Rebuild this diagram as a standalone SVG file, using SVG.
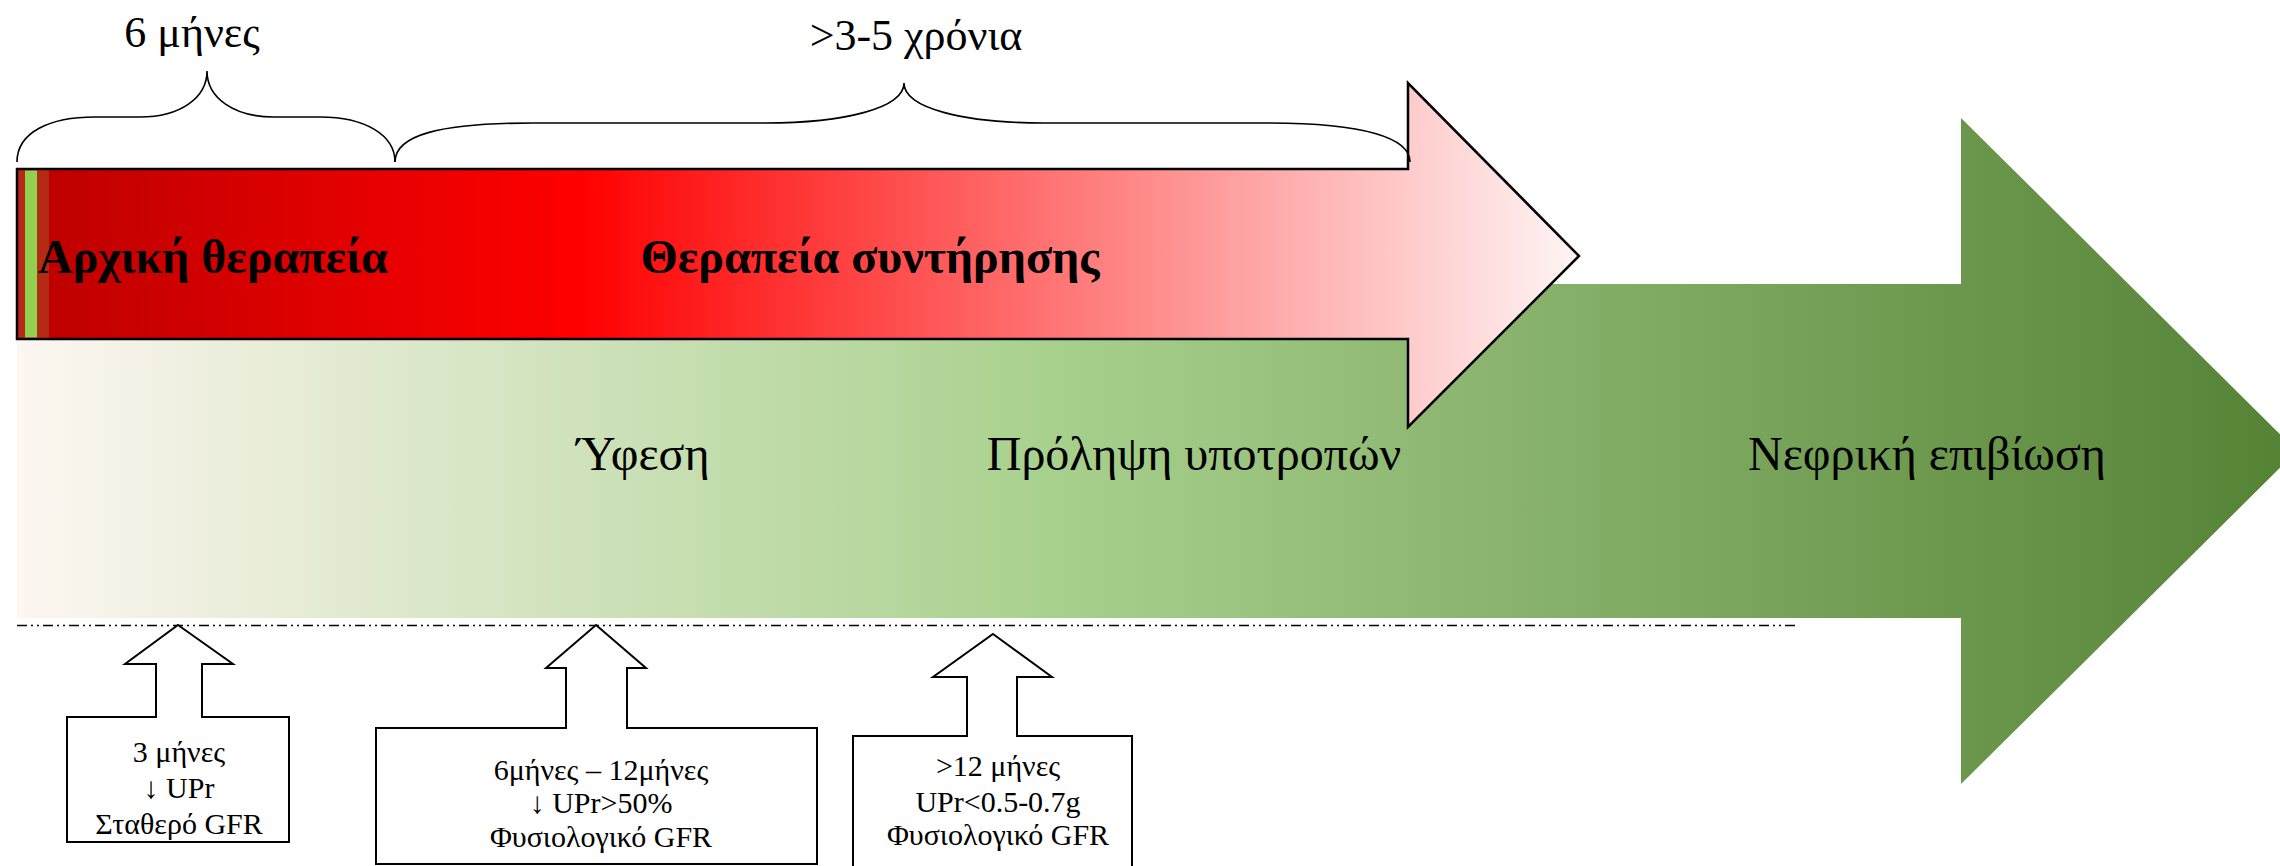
<svg xmlns="http://www.w3.org/2000/svg" width="2280" height="866" viewBox="0 0 2280 866">
<defs>
<linearGradient id="gGreen" gradientUnits="userSpaceOnUse" x1="17" y1="0" x2="2297" y2="0">
<stop offset="0" stop-color="#fdf6f1"/>
<stop offset="0.45" stop-color="#a9d18e"/>
<stop offset="1" stop-color="#548235"/>
</linearGradient>
<linearGradient id="gRed" gradientUnits="userSpaceOnUse" x1="17" y1="0" x2="1579" y2="0">
<stop offset="0" stop-color="#bb0000"/>
<stop offset="0.36" stop-color="#ff0000"/>
<stop offset="1" stop-color="#fff5f5"/>
</linearGradient>
</defs>
<style>
text{font-family:"Liberation Serif","Times New Roman",serif;fill:#000}
.big{font-size:48px}
.bold{font-size:48px;font-weight:bold}
.top{font-size:44px}
.box{font-size:30px}
.callout{fill:#fff;stroke:#000;stroke-width:2}
.brace{fill:none;stroke:#000;stroke-width:1.6}
</style>
<rect width="2280" height="866" fill="#fff"/>

<g id="green-arrow">
<polygon points="17,284 1961,284 1961,118 2297,451 1961,784 1961,618 17,618" fill="url(#gGreen)"/>
<text class="big" x="643" y="470" text-anchor="middle">Ύφεση</text>
<text class="big" x="1194" y="470" text-anchor="middle">Πρόληψη υποτροπών</text>
<text class="big" x="1927" y="470" text-anchor="middle">Νεφρική επιβίωση</text>
</g>

<g id="red-arrow">
<polygon points="17,169 1408,169 1408,83 1579,256 1408,427 1408,339 17,339" fill="url(#gRed)" stroke="#000" stroke-width="2.5" stroke-linejoin="miter"/>
<rect x="18.5" y="170.5" width="7" height="167" fill="#b52a14"/>
<rect x="25" y="170.5" width="12" height="167" fill="#92d050"/>
<rect x="37" y="170.5" width="12" height="167" fill="#b52a14"/>
<text class="bold" x="38" y="273">Αρχική θεραπεία</text>
<text class="bold" x="870" y="273" text-anchor="middle">Θεραπεία συντήρησης</text>
</g>

<g id="brace-6m">
<path class="brace" d="M17,162 C17,132 50,117 95,117 L140,117 C180,117 207,98 207,71 C207,98 234,117 274,117 L320,117 C365,117 395,135 395,162"/>
<text class="top" x="192" y="47" text-anchor="middle">6 μήνες</text>
</g>

<g id="brace-3-5y">
<path class="brace" d="M395,162 C395,135 440,123 533,123 L765,123 C845,123 904,108 904,83 C904,108 963,123 1044,123 L1267,123 C1365,123 1410,138 1410,162"/>
<text class="top" x="916" y="50" text-anchor="middle">&gt;3-5 χρόνια</text>
</g>

<g id="connectors">
<line x1="17" y1="625.5" x2="1797" y2="625.5" stroke="#000" stroke-width="1.6" stroke-dasharray="10 4 2 4 2 4"/>
</g>

<g id="callout-3m">
<polygon class="callout" points="178,625 233,664 202,664 202,717 289,717 289,842 67,842 67,717 156,717 156,664 125,664"/>
<text class="box" x="179" y="762" text-anchor="middle">3 μήνες</text>
<text class="box" x="179" y="798" text-anchor="middle">↓ UPr</text>
<text class="box" x="179" y="834" text-anchor="middle">Σταθερό GFR</text>
</g>

<g id="callout-6-12m">
<polygon class="callout" points="596,625 646,668 627,668 627,728 817,728 817,864 376,864 376,728 566,728 566,668 546,668"/>
<text class="box" x="601" y="780" text-anchor="middle">6μήνες – 12μήνες</text>
<text class="box" x="601" y="813" text-anchor="middle">↓ UPr&gt;50%</text>
<text class="box" x="601" y="847" text-anchor="middle">Φυσιολογικό GFR</text>
</g>

<g id="callout-12m">
<polygon class="callout" points="993,634 1052,677 1017,677 1017,736 1132,736 1132,880 853,880 853,736 967,736 967,677 933,677"/>
<text class="box" x="998" y="776" text-anchor="middle">&gt;12 μήνες</text>
<text class="box" x="998" y="812" text-anchor="middle">UPr&lt;0.5-0.7g</text>
<text class="box" x="998" y="845" text-anchor="middle">Φυσιολογικό GFR</text>
</g>
</svg>
